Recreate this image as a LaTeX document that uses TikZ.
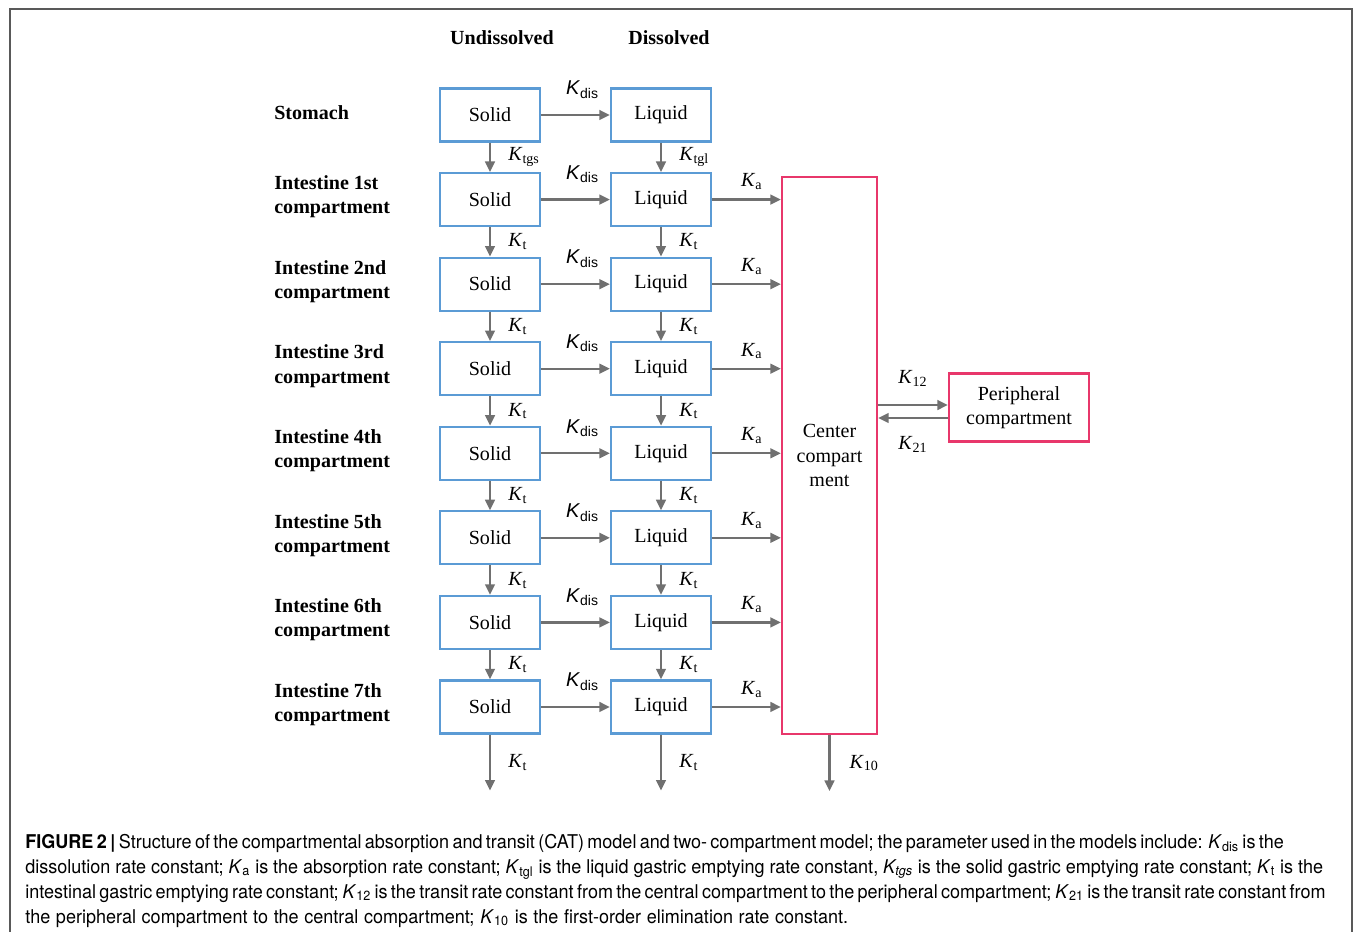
\documentclass[tikz,border=0pt]{standalone}
\usepackage{fontspec}
\setmainfont{Liberation Serif}
\setsansfont{Liberation Sans}
\newfontfamily\capfont[FakeStretch=0.95]{TeX Gyre Heros}
\usetikzlibrary{arrows.meta,positioning}
\definecolor{boxblue}{HTML}{5B9BD5}
\definecolor{cmtpink}{HTML}{E8376B}
\definecolor{arrgray}{HTML}{707070}
\newcommand{\krate}[1]{\textit{K}\textsubscript{#1}}
\newcommand{\kdis}{{\sffamily\textit{K}\textsubscript{dis}}}

\begin{document}
\begin{tikzpicture}[x=0.02cm,y=-0.02cm,
	box/.style={draw=boxblue,line width=1.25pt,minimum width=2cm,minimum height=1.06cm,inner sep=0pt},
	cmt/.style={draw=cmtpink,line width=1.25pt,inner sep=0pt,align=center},
	arr/.style={draw=arrgray,line width=1.3pt,-{Triangle[length=6pt,width=5.5pt]}},
	capline/.style={anchor=base west,inner sep=0pt,font=\capfont\fontsize{10.8}{13}\selectfont}]
	\fontsize{11.4}{13.7}\selectfont
	\useasboundingbox (0,0) rectangle (1355,932);
	\draw[line width=0.9pt,draw=black!65] (10,932) -- (10,9) -- (1352,9) -- (1352,932);

	\node[font=\bfseries] (hU) at (502,38) {Undissolved};
	\node[font=\bfseries] (hD) at (669,38) {Dissolved};

	\node[cmt,minimum width=1.9cm,minimum height=11.14cm] (C) at (829.5,455.5) {Center\\compart\\ment};
	\node[cmt,minimum width=2.8cm,minimum height=1.36cm] (P) at (1019,407.5) {Peripheral\\compartment};

	\foreach \lab [count=\n] in {Stomach,{Intestine 1st\\compartment},{Intestine 2nd\\compartment},{Intestine 3rd\\compartment},
		{Intestine 4th\\compartment},{Intestine 5th\\compartment},{Intestine 6th\\compartment},{Intestine 7th\\compartment}}
	{
		\pgfmathsetmacro{\y}{115+84.57*(\n-1)}
		\node[anchor=west,align=left,inner sep=0pt,font=\bfseries] (R\n) at (274,\y-2.5) {\lab};
		\node[box] (S\n) at (490,\y) {Solid};
		\node[box] (L\n) at (661,\y) {Liquid};
		\draw[arr] (S\n) -- node[above=5pt,xshift=4pt] {\kdis} (L\n);
	}

	% absorption into the center compartment
	\foreach \n in {2,...,8}
		\draw[arr] (L\n) -- (L\n -| C.west) node[midway,above=1pt,xshift=3pt] {\krate{a}};

	\foreach \top/\bot/\ls/\ll in {1/2/tgs/tgl,2/3/t/t,3/4/t/t,4/5/t/t,5/6/t/t,6/7/t/t,7/8/t/t}
	{
		\draw[arr] (S\top) -- node[right=6pt] {\krate{\ls}} (S\bot);
		\draw[arr] (L\top) -- node[right=6pt] {\krate{\ll}} (L\bot);
	}

	% outflows at the bottom
	\coordinate[below=1.12cm of S8.south] (oS);
	\coordinate[below=1.12cm of L8.south] (oL);
	\coordinate[below=1.12cm of C.south] (oC);
	\draw[arr] (S8) -- node[right=6pt] {\krate{t}} (oS);
	\draw[arr] (L8) -- node[right=6pt] {\krate{t}} (oL);
	\draw[arr] (C) -- node[right=7pt] {\krate{10}} (oC);

	% exchange with the peripheral compartment
	\coordinate (pin) at ([yshift=0.05cm]P.west);
	\coordinate (pout) at ([yshift=-0.21cm]P.west);
	\draw[arr] (pin -| C.east) -- node[above=6pt] {\krate{12}} (pin);
	\draw[arr] (pout) -- node[below=6pt] {\krate{21}} (pout -| C.east);

	\node[capline] (cap1) at (25,848) {\makebox[25.12cm][s]{\textbf{FIGURE 2}\kern2pt\textbf{|}\kern2pt Structure of the compartmental absorption and transit (CAT) model and two- compartment model; the parameter used in the models include: \krate{dis} is the}};
	\node[capline] (cap2) at (25,873) {\makebox[25.96cm][s]{dissolution rate constant; \krate{a} is the absorption rate constant; \krate{tgl} is the liquid gastric emptying rate constant, \textit{K\textsubscript{tgs}} is the solid gastric emptying rate constant; \krate{t} is the}};
	\node[capline] (cap3) at (25,898) {\makebox[25.96cm][s]{intestinal gastric emptying rate constant; \krate{12} is the transit rate constant from the central compartment to the peripheral compartment; \krate{21} is the transit rate constant from}};
	\node[capline] (cap4) at (25,923) {\makebox[16.46cm][s]{the peripheral compartment to the central compartment; \krate{10} is the first-order elimination rate constant.}};
\end{tikzpicture}
\end{document}
